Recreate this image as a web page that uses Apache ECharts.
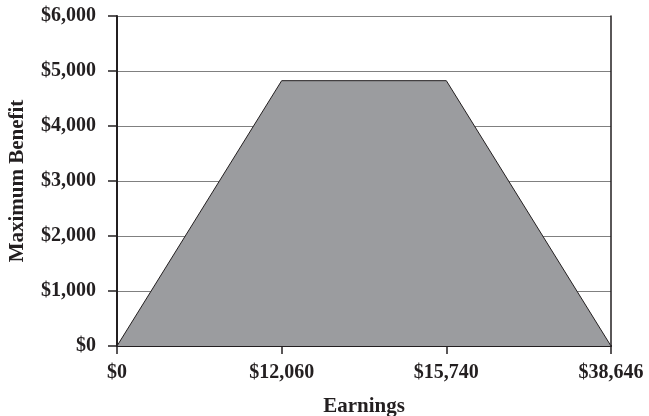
<!DOCTYPE html>
<html>
<head>
<meta charset="utf-8">
<script src="https://cdn.jsdelivr.net/npm/echarts@6/dist/echarts.min.js"></script>
<style>
  html, body { margin: 0; padding: 0; background: #fff; }
  #chart-container { width: 649px; height: 416px; }
</style>
</head>
<body>
<div id="chart-container"></div>
<script>
const earnings = ['$0', '$12,060', '$15,740', '$38,646']
const benefit = [0, 4824, 4824, 0]
const yTicks = [0, 1000, 2000, 3000, 4000, 5000, 6000]

const font = 'Liberation Serif'
const dom = document.getElementById('chart-container')
const myChart = echarts.init(dom, null, { renderer: 'canvas' })

const money = v => '$' + v.toLocaleString('en-US')

const options = {
  animation: false,
  grid: { left: 117, right: 38, top: 16, bottom: 70, outerBoundsMode: 'none' },
  xAxis: [
    {
      type: 'category',
      data: earnings,
      boundaryGap: false,
      name: 'Earnings',
      nameLocation: 'middle',
      nameGap: 50,
      nameTextStyle: { fontFamily: font, fontWeight: 'bold', fontSize: 21, color: '#231f20' },
      axisLine: { lineStyle: { color: '#231f20', width: 2 } },
      axisTick: { length: 8, lineStyle: { color: '#231f20', width: 1.5 } },
      axisLabel: { margin: 17, fontFamily: font, fontWeight: 'bold', fontSize: 20, color: '#231f20' }
    },
    {
      type: 'category',
      data: earnings,
      boundaryGap: false,
      position: 'top',
      axisLine: { lineStyle: { color: '#231f20', width: 1.5 } },
      axisTick: { show: false },
      axisLabel: { show: false }
    }
  ],
  yAxis: [
    {
      type: 'value',
      min: yTicks[0],
      max: yTicks[yTicks.length - 1],
      interval: 1000,
      name: 'Maximum Benefit',
      nameLocation: 'middle',
      nameGap: 89,
      nameTextStyle: { fontFamily: font, fontWeight: 'bold', fontSize: 21, color: '#231f20' },
      axisLine: { show: true, lineStyle: { color: '#231f20', width: 2 } },
      axisTick: { show: true, length: 9, lineStyle: { color: '#231f20', width: 1.5 } },
      axisLabel: { margin: 21, fontFamily: font, fontWeight: 'bold', fontSize: 20, color: '#231f20', formatter: money },
      splitLine: { lineStyle: { color: '#808080', width: 1 } }
    },
    {
      type: 'value',
      min: yTicks[0],
      max: yTicks[yTicks.length - 1],
      position: 'right',
      axisLine: { show: true, lineStyle: { color: '#231f20', width: 1.5 } },
      axisTick: { show: false },
      axisLabel: { show: false },
      splitLine: { show: false }
    }
  ],
  series: [
    {
      type: 'line',
      data: benefit,
      symbol: 'none',
      lineStyle: { color: '#231f20', width: 1 },
      areaStyle: { color: '#9b9c9f', opacity: 1 }
    }
  ]
}

myChart.setOption(options)
window.addEventListener('resize', myChart.resize)
</script>
</body>
</html>
